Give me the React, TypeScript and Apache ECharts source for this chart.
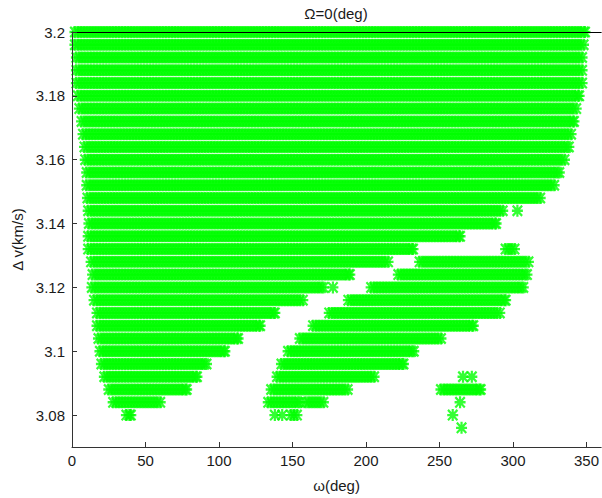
import React, { useEffect, useRef } from "react";
import * as echarts from "echarts";

const TITLE = "Ω=0(deg)";
const X_NAME = "ω(deg)";
const Y_NAME = "Δ v(km/s)";

// sampling step of the ω grid (deg)
const OMEGA_STEP = 2;

const OMEGA_TICKS = [0, 50, 100, 150, 200, 250, 300, 350];
const DV_TICKS = [3.08, 3.1, 3.12, 3.14, 3.16, 3.18, 3.2];

// Δv rows (km/s)
const deltaV = [
  3.2, 3.196, 3.192, 3.188, 3.184, 3.18, 3.176, 3.172, 3.168, 3.164, 3.16,
  3.156, 3.152, 3.148, 3.144, 3.14, 3.136, 3.132, 3.128, 3.124, 3.12, 3.116,
  3.112, 3.108, 3.104, 3.1, 3.096, 3.092, 3.088, 3.084, 3.08, 3.076,
];

// feasible ω ranges [from, to] (deg) for each Δv row
const omegaRanges: number[][][] = [
  [[2, 349]],
  [[2, 348.5]],
  [[3, 347.5]],
  [[3, 347]],
  [[3, 347]],
  [[4, 345]],
  [[5, 343]],
  [[6.5, 341.5]],
  [[7.5, 340]],
  [[8.5, 338]],
  [[9, 335]],
  [[10, 331.5]],
  [[10, 328]],
  [[10.5, 318.5]],
  [[11, 293], [303, 303]],
  [[11.5, 288.5]],
  [[11, 264]],
  [[11, 232], [295, 301]],
  [[13, 215], [236.5, 310.5]],
  [[14, 189], [222, 309.5]],
  [[13.5, 171], [177.5, 177.5], [203.5, 307]],
  [[15, 157], [188, 295]],
  [[17, 138], [175, 291]],
  [[17, 128], [164, 273]],
  [[18, 113], [155, 251]],
  [[19, 104], [147, 232.5]],
  [[20, 91.5], [142.5, 225.5]],
  [[22, 85], [139.5, 206], [266, 266], [272, 272]],
  [[25, 78], [135.5, 188], [251, 278]],
  [[28, 60.5], [133.5, 155], [159, 171], [264, 264]],
  [[37, 40], [138, 138], [143, 143], [149, 153], [259, 259]],
  [[265, 265]],
];

function buildPoints(): number[][] {
  const pts: number[][] = [];
  deltaV.forEach((dv, i) => {
    omegaRanges[i].forEach(([a, b]) => {
      let w = a;
      let last = a;
      for (; w <= b + 1e-9; w += OMEGA_STEP) {
        pts.push([w, dv]);
        last = w;
      }
      if (b - last > 0.5) pts.push([b, dv]);
    });
  });
  return pts;
}

const ASTERISK =
  "path://M0 4H10V6H0Z M4 0H6V10H4Z M1.4 0L10 8.6L8.6 10L0 1.4Z M8.6 0L10 1.4L1.4 10L0 8.6Z";

const FONT = '"Liberation Sans", Arial, sans-serif';
const TEXT_COLOR = "#1a1a1a";
const AXIS_COLOR = "#333";

export default function App() {
  const ref = useRef<HTMLDivElement>(null);
  useEffect(() => {
    if (!ref.current) return;
    const chart = echarts.init(ref.current, null, { renderer: "svg" });
    chart.setOption({
      animation: false,
      backgroundColor: "#fff",
      textStyle: { fontFamily: FONT },
      grid: { left: 72, right: 0, top: 32, bottom: 47 },
      graphic: [
        {
          type: "text",
          x: 336,
          y: 13,
          style: {
            text: TITLE,
            font: `15px ${FONT}`,
            fill: TEXT_COLOR,
            align: "center",
            verticalAlign: "middle",
          },
        },
      ],
      xAxis: [
        {
          type: "value",
          min: 0,
          max: 360,
          position: "bottom",
          name: X_NAME,
          nameLocation: "middle",
          nameGap: 31,
          nameTextStyle: { fontSize: 15, color: TEXT_COLOR, fontFamily: FONT },
          axisLine: { lineStyle: { color: AXIS_COLOR, width: 1 } },
          axisTick: {
            inside: true,
            length: 5,
            customValues: OMEGA_TICKS,
            lineStyle: { color: AXIS_COLOR },
          },
          axisLabel: {
            customValues: OMEGA_TICKS,
            fontSize: 15,
            color: TEXT_COLOR,
            margin: 6,
            fontFamily: FONT,
          },
          splitLine: { show: false },
          z: 5,
        },
        {
          type: "value",
          min: 0,
          max: 360,
          position: "top",
          axisLine: { lineStyle: { color: "#000", width: 1 } },
          axisTick: { show: false },
          axisLabel: { show: false },
          splitLine: { show: false },
          z: 5,
        },
      ],
      yAxis: {
        type: "value",
        min: 3.07,
        max: 3.2,
        name: Y_NAME,
        nameLocation: "middle",
        nameGap: 39,
        nameRotate: 90,
        nameTextStyle: { fontSize: 15, color: TEXT_COLOR, fontFamily: FONT },
        axisLine: { show: true, lineStyle: { color: AXIS_COLOR, width: 1 } },
        axisTick: {
          show: true,
          inside: true,
          length: 5,
          customValues: DV_TICKS,
          lineStyle: { color: AXIS_COLOR },
        },
        axisLabel: {
          customValues: DV_TICKS,
          fontSize: 15,
          color: TEXT_COLOR,
          margin: 7,
          fontFamily: FONT,
          formatter: (v: number) => String(Number(v.toFixed(3))),
        },
        splitLine: { show: false },
        z: 5,
      },
      series: [
        {
          type: "scatter",
          xAxisIndex: 0,
          data: buildPoints(),
          symbol: ASTERISK,
          symbolSize: [11, 12],
          itemStyle: { color: "#00ff00" },
          silent: true,
          clip: false,
        },
      ],
    });
    return () => chart.dispose();
  }, []);
  return (
    <div
      ref={ref}
      style={{
        position: "fixed",
        left: 0,
        top: 0,
        width: 602,
        height: 498,
        background: "#fff",
      }}
    />
  );
}
